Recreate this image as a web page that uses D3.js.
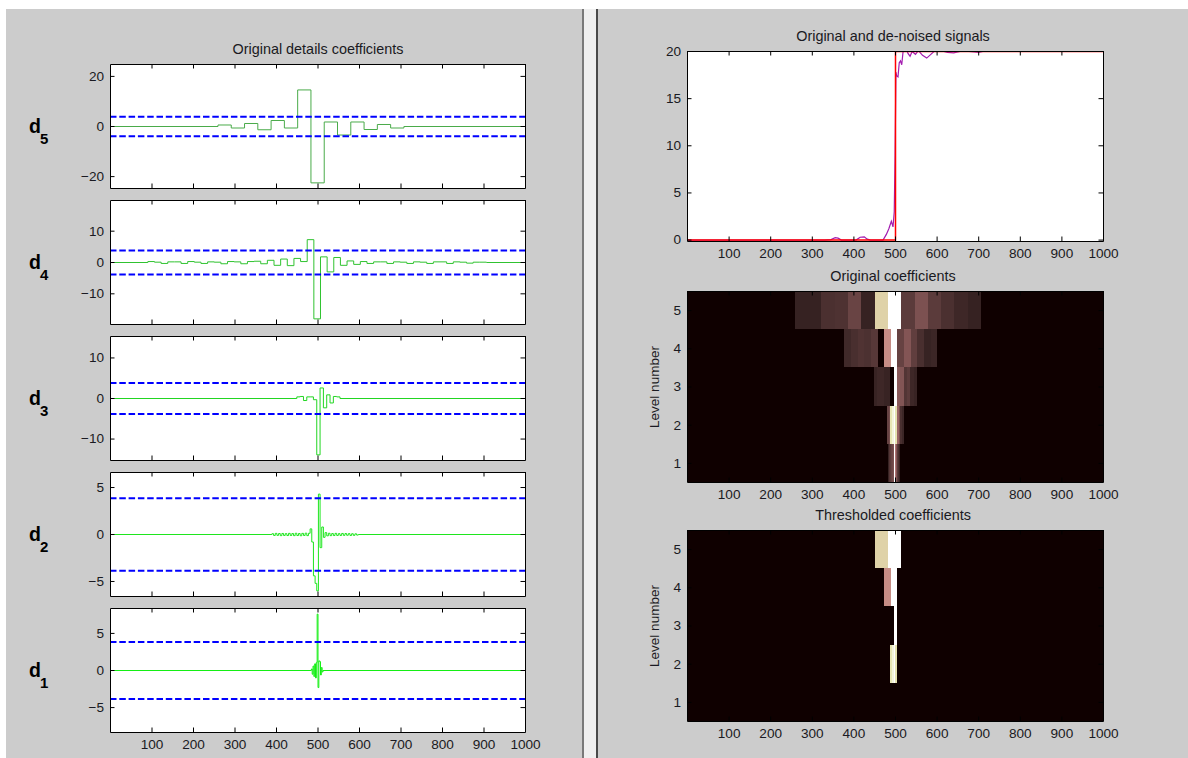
<!DOCTYPE html>
<html><head><meta charset="utf-8">
<script src="https://cdn.jsdelivr.net/npm/d3@7"></script>
<style>
html,body{margin:0;padding:0;background:#fff;}
svg{display:block;}
</style></head><body>
<svg id="c" width="1188" height="758"></svg>
<script>
// ---------------- DATA ----------------
const xTickValues = [100, 200, 300, 400, 500, 600, 700, 800, 900, 1000];
const threshold = 3.85;

// detail coefficients, stored as blocks: start sample, block width, values
const d5Start = 259, d5Width = 32;
const d5Values = [0.6, -0.6, 1.2, -1.3, 2.4, -0.6, 14.6, -22.5, 1.8, -3.4, 1.8, -1.2, 0.8, -0.6];

const d4Start = 90, d4Width = 16;
const d4Values = [0.3, 0.1, -0.3, 0.2, 0.2, -0.3, 0.3, 0.1, -0.3, 0.2, 0.1, -0.4, 0.3, 0.2, -0.4, 0.3, 0.4, -0.4,
  0.7, -0.9, 1.1, -1.0, 1.3, 0.3, 7.3, -18.0, 1.8, -3.0, 1.6, -0.9, 0.5, -0.6,
  0.3, -0.3, 0.2, 0.2, -0.3, 0.2, 0.1, -0.3, 0.2, 0.1, -0.3, 0.2, 0.2, -0.3, 0.2, 0.1, -0.2, 0.1, 0.1];

const d3Start = 449, d3Width = 8;
const d3Values = [0.4, 0.5, -0.5, 0.4, 0.4, -0.3, -13.9, 2.6, -2.3, 0.9, -1.1, 0.5, 0.4];

const d2Start = 389, d2Width = 4;
const d2Values = [0.08, -0.1, 0.12, -0.09, 0.1, -0.12, 0.11, -0.1, 0.09, -0.11, 0.12, -0.1, 0.1, -0.12, 0.13, -0.11, 0.1, -0.13, 0.12, -0.1, 0.14, -0.12, 0.13,
  0.6, -0.8, -4.4, -5.2, -6.0, 4.3, -1.4, 0.8, -0.3,
  0.2, -0.14, 0.13, -0.12, 0.1, -0.11, 0.12, -0.1, 0.09, -0.1, 0.11, -0.09, 0.1, -0.08, 0.09, -0.1, 0.08, -0.09, 0.07, -0.06];

const d1Start = 484, d1Width = 2;
const d1Values = [0.2, -0.5, 0.6, -0.8, 0.9, -1.0, 1.1, 7.6, -2.3, 1.3, 1.2, -0.6, 0.4, -0.2];

const d5Ticks = [-20, 0, 20];
const d4Ticks = [-10, 0, 10];
const d3Ticks = [-10, 0, 10];
const d2Ticks = [-5, 0, 5];
const d1Ticks = [-5, 0, 5];

// levels whose coefficients survive in the thresholded display
const keptLevels = [5, 4, 3, 2];

// signals
const originalX = [0, 500, 500, 1000];
const originalY = [0, 0, 20, 20];
const denoisedX = [0,330,345,355,362,370,405,415,425,432,440,470,478,484,490,494,497,499,501,503,506,509,512,515,518,522,526,530,535,540,548,555,565,575,585,595,610,625,640,655,670,690,700,710,1000];
const denoisedY = [0,0,0.05,0.25,0.2,0,0,0.3,0.35,0.1,0,0,0.6,1.2,2.0,1.4,3.0,9.0,17.8,17.4,17.3,18.8,19.0,18.6,19.9,20.6,20.3,19.8,19.5,20.0,19.7,20.1,19.6,19.3,19.7,20.1,20.1,19.9,19.85,20.0,20.05,19.95,19.9,20,20];
const signalTicks = [0, 5, 10, 15, 20];
const levelTicks = [1, 2, 3, 4, 5];

// ---------------- RENDER ----------------
const W = 1188, H = 758;
const FONT = '"Liberation Sans", Arial, Helvetica, sans-serif';
const TXT = "#1a1a22";
const TICK_FS = 13.6, TITLE_FS = 14.4;
const svg = d3.select("#c");

svg.append("rect").attr("width", W).attr("height", H).attr("fill", "#ffffff");
svg.append("rect").attr("x", 6).attr("y", 9).attr("width", W - 6).attr("height", H - 9).attr("fill", "#cccccc");
svg.append("rect").attr("x", 584).attr("y", 9).attr("width", 12).attr("height", H - 9).attr("fill", "#efefef");
svg.append("line").attr("x1", 583).attr("x2", 583).attr("y1", 9).attr("y2", H).attr("stroke", "#5e5e5e").attr("stroke-width", 1.5);
svg.append("line").attr("x1", 597).attr("x2", 597).attr("y1", 9).attr("y2", H).attr("stroke", "#1e1e1e").attr("stroke-width", 1.5);

let clipId = 0;
function clip(x0, y0, x1, y1) {
  const id = "clip" + (clipId++);
  svg.append("clipPath").attr("id", id).append("rect")
    .attr("x", x0).attr("y", y0).attr("width", x1 - x0).attr("height", y1 - y0);
  return "url(#" + id + ")";
}

function styleAxis(g) {
  g.attr("font-family", FONT).attr("font-size", TICK_FS);
  g.selectAll(".domain").attr("stroke", "#000");
  g.selectAll(".tick line").attr("stroke", "#000");
  g.selectAll(".tick text").attr("fill", TXT);
}

function drawAxes(x, y, xTicks, yTicks, showX) {
  const [x0, x1] = x.range();
  const [yb, yt] = y.range();
  const TL = 4.5;
  const gb = svg.append("g").attr("transform", `translate(0,${yb})`)
    .call(d3.axisBottom(x).tickValues(xTicks).tickSizeInner(-TL).tickSizeOuter(0).tickPadding(7.5)
      .tickFormat(showX ? d3.format("d") : () => ""));
  const gt = svg.append("g").attr("transform", `translate(0,${yt})`)
    .call(d3.axisTop(x).tickValues(xTicks).tickSizeInner(-TL).tickSizeOuter(0).tickFormat(() => ""));
  const gl = svg.append("g").attr("transform", `translate(${x0},0)`)
    .call(d3.axisLeft(y).tickValues(yTicks).tickSizeInner(-TL).tickSizeOuter(0).tickPadding(6).tickFormat(d3.format("d")));
  const gr = svg.append("g").attr("transform", `translate(${x1},0)`)
    .call(d3.axisRight(y).tickValues(yTicks).tickSizeInner(-TL).tickSizeOuter(0).tickFormat(() => ""));
  [gb, gt, gl, gr].forEach(styleAxis);
}

function title(text, cx, top) {
  svg.append("text").attr("x", cx).attr("y", top - 10.5).attr("text-anchor", "middle")
    .attr("font-family", FONT).attr("font-size", TITLE_FS).attr("fill", TXT).text(text);
}

function stepPoints(start, width, values) {
  const pts = [[0, 0]];
  values.forEach((v, i) => pts.push([start + i * width, v]));
  pts.push([start + values.length * width, 0], [1000, 0]);
  return pts;
}

// ---------- left column ----------
const LX0 = 110, LX1 = 525, LH = 124;
const leftPanels = [
  { sub: "5", start: d5Start, width: d5Width, values: d5Values, ticks: d5Ticks, top: 64, color: "#4aab4a" },
  { sub: "4", start: d4Start, width: d4Width, values: d4Values, ticks: d4Ticks, top: 200, color: "#30c330" },
  { sub: "3", start: d3Start, width: d3Width, values: d3Values, ticks: d3Ticks, top: 336, color: "#22d622" },
  { sub: "2", start: d2Start, width: d2Width, values: d2Values, ticks: d2Ticks, top: 472, color: "#1ee61e" },
  { sub: "1", start: d1Start, width: d1Width, values: d1Values, ticks: d1Ticks, top: 608, color: "#14ef14" }
];

title("Original details coefficients", (LX0 + LX1) / 2 + 0.5, 64);

leftPanels.forEach((p, idx) => {
  const top = p.top, bot = p.top + LH;
  const lim = 1.1 * d3.max(p.values, v => Math.abs(v));
  const x = d3.scaleLinear().domain([0, 1000]).range([LX0, LX1]);
  const y = d3.scaleLinear().domain([-lim, lim]).range([bot, top]);
  svg.append("rect").attr("x", LX0).attr("y", top).attr("width", LX1 - LX0).attr("height", LH).attr("fill", "#fff");
  const cp = clip(LX0, top, LX1 + 1, bot + 1);
  const line = d3.line().x(d => x(d[0]) + 0.5).y(d => y(d[1]) + 0.5).curve(d3.curveStepAfter);
  svg.append("path").attr("clip-path", cp).attr("d", line(stepPoints(p.start, p.width, p.values)))
    .attr("fill", "none").attr("stroke", p.color).attr("stroke-width", 1);
  [threshold, -threshold].forEach(t => {
    svg.append("line").attr("clip-path", cp)
      .attr("x1", x(0)).attr("x2", x(1000)).attr("y1", y(t) + 0.5).attr("y2", y(t) + 0.5)
      .attr("stroke", "#0000ff").attr("stroke-width", 2).attr("stroke-dasharray", "6.5,2.8");
  });
  drawAxes(x, y, xTickValues, p.ticks, idx === leftPanels.length - 1);
  const cy = (top + bot) / 2;
  svg.append("text").attr("x", 29).attr("y", cy + 6.5).attr("font-family", FONT).attr("font-weight", "bold")
    .attr("font-size", 19.5).attr("fill", "#000").text("d");
  svg.append("text").attr("x", 40).attr("y", cy + 18).attr("font-family", FONT).attr("font-weight", "bold")
    .attr("font-size", 15).attr("fill", "#000").text(p.sub);
});

// ---------- right column ----------
const RX0 = 687, RX1 = 1103;
// signal plot
{
  const top = 51, bot = 241;
  const x = d3.scaleLinear().domain([0, 1000]).range([RX0, RX1]);
  const y = d3.scaleLinear().domain([-0.15, 20]).range([bot, top]);
  svg.append("rect").attr("x", RX0).attr("y", top).attr("width", RX1 - RX0).attr("height", bot - top).attr("fill", "#fff");
  const cp = clip(RX0, top, RX1 + 1, bot + 1);
  const line = d3.line().x(d => x(d[0]) + 0.5).y(d => y(d[1]) + 0.5);
  svg.append("path").attr("clip-path", cp).attr("d", line(denoisedX.map((v, i) => [v, denoisedY[i]])))
    .attr("fill", "none").attr("stroke", "#a31cb0").attr("stroke-width", 1.2);
  svg.append("path").attr("clip-path", cp).attr("d", line(originalX.map((v, i) => [v, originalY[i]])))
    .attr("fill", "none").attr("stroke", "#ff0000").attr("stroke-width", 1.5);
  drawAxes(x, y, xTickValues, signalTicks, true);
  title("Original and de-noised signals", (RX0 + RX1) / 2 - 2, top);
}

// pink colormap
function pinkColor(t) {
  const k = t * 255 + 1;
  const hr = Math.min(1, k / 96);
  const hg = Math.max(0, Math.min(1, (k - 96) / 96));
  const hb = Math.max(0, Math.min(1, (k - 192) / 64));
  return d3.rgb(255 * Math.sqrt((2 * t + hr) / 3), 255 * Math.sqrt((2 * t + hg) / 3), 255 * Math.sqrt((2 * t + hb) / 3)).toString();
}
const heatColor = d3.scaleSequential(pinkColor).domain([0, 1]);

const heatLevels = [
  { level: 5, start: d5Start, width: d5Width, values: d5Values },
  { level: 4, start: d4Start, width: d4Width, values: d4Values },
  { level: 3, start: d3Start, width: d3Width, values: d3Values },
  { level: 2, start: d2Start, width: d2Width, values: d2Values },
  { level: 1, start: d1Start, width: d1Width, values: d1Values }
];

function heatmap(top, bot, name, thresholded) {
  const x = d3.scaleLinear().domain([0, 1000]).range([RX0, RX1]);
  const y = d3.scaleLinear().domain([0.5, 5.5]).range([bot, top]);
  svg.append("rect").attr("x", RX0).attr("y", top).attr("width", RX1 - RX0).attr("height", bot - top)
    .attr("fill", heatColor(0));
  const cp = clip(RX0, top, RX1 + 1, bot + 1);
  const g = svg.append("g").attr("clip-path", cp);
  heatLevels.forEach(L => {
    if (thresholded && !keptLevels.includes(L.level)) return;
    const m = d3.max(L.values, v => Math.abs(v));
    L.values.forEach((v, i) => {
      const a = Math.abs(v);
      const t = a / m;
      if (t < 0.025 || (thresholded && a < threshold)) return;
      const xa = x(L.start + i * L.width), xb = x(L.start + (i + 1) * L.width);
      g.append("rect").attr("x", xa).attr("width", xb - xa)
        .attr("y", y(L.level + 0.5)).attr("height", y(L.level - 0.5) - y(L.level + 0.5))
        .attr("fill", heatColor(t)).attr("shape-rendering", "crispEdges");
    });
  });
  drawAxes(x, y, xTickValues, levelTicks, true);
  title(name, (RX0 + RX1) / 2 - 2, top);
  svg.append("text").attr("transform", `translate(658.5,${(top + bot) / 2 + 0.5}) rotate(-90)`)
    .attr("text-anchor", "middle").attr("font-family", FONT).attr("font-size", 13.5).attr("fill", TXT).text("Level number");
}
heatmap(291, 482, "Original coefficients", false);
heatmap(530, 721, "Thresholded coefficients", true);
</script>
</body></html>
